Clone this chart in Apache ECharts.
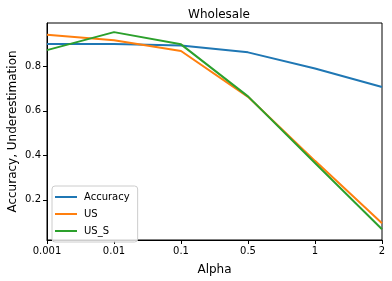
<!DOCTYPE html>
<html><head><meta charset="utf-8">
<script src="https://cdn.jsdelivr.net/npm/echarts@6/dist/echarts.min.js"></script>
<style>html,body{margin:0;padding:0;background:#fff}#c{width:392px;height:281px}</style>
</head><body><div id="c"></div>
<script>
const categories = ['0.001', '0.01', '0.1', '0.5', '1', '2'];
const accuracy = [0.901, 0.901, 0.894, 0.863, 0.790, 0.707];
const us = [0.942, 0.917, 0.869, 0.663, 0.375, 0.094];
const usS = [0.873, 0.954, 0.899, 0.665, 0.365, 0.067];
const yTicks = [0.2, 0.4, 0.6, 0.8];

const font = 'DejaVu Sans';
const chart = echarts.init(document.getElementById('c'));
const mk = (name, data, color) => ({
  name, type: 'line', data, symbol: 'none', smooth: false,
  lineStyle: { color, width: 2 }, itemStyle: { color }, animation: false
});
chart.setOption({
  animation: false,
  title: { text: 'Wholesale', left: 214, top: 4, textAlign: 'center',
    textStyle: { fontFamily: font, fontSize: 12, fontWeight: 'normal', color: '#000' } },
  grid: { left: 47, right: 10, top: 23, bottom: 41, show: true, borderColor: '#000', borderWidth: 1,
    backgroundColor: 'transparent', containLabel: false, outerBoundsMode: 'none' },
  legend: {
    orient: 'vertical', left: 52, top: 186, data: ['Accuracy', 'US', 'US_S'],
    icon: 'rect', itemWidth: 22, itemHeight: 2, itemGap: 7,
    padding: [6, 8, 6, 3], borderColor: '#ccc', borderWidth: 1, borderRadius: 3,
    backgroundColor: 'rgba(255,255,255,0.8)',
    textStyle: { fontFamily: font, fontSize: 10, color: '#000', padding: [0, 0, 0, 2] }
  },
  xAxis: {
    type: 'category', data: categories, boundaryGap: false,
    name: 'Alpha', nameLocation: 'middle', nameGap: 24,
    nameTextStyle: { fontFamily: font, fontSize: 12, color: '#000' },
    axisLine: { lineStyle: { color: '#000', width: 1 } },
    axisTick: { show: true, length: 4, lineStyle: { color: '#000' }, alignWithLabel: true },
    axisLabel: { fontFamily: font, fontSize: 10, color: '#000', margin: 6 },
    splitLine: { show: false }
  },
  yAxis: {
    type: 'value', min: 0.019, max: 0.995,
    name: 'Accuracy, Underestimation', nameLocation: 'middle', nameGap: 28, nameRotate: 90,
    nameMoveOverlap: false,
    nameTextStyle: { fontFamily: font, fontSize: 12, color: '#000' },
    axisLine: { show: true, lineStyle: { color: '#000', width: 1 } },
    axisTick: { show: true, length: 4, lineStyle: { color: '#000' }, customValues: yTicks },
    axisLabel: { fontFamily: font, fontSize: 10, color: '#000', margin: 6, customValues: yTicks,
      formatter: v => v.toFixed(1) },
    splitLine: { show: false }
  },
  series: [mk('Accuracy', accuracy, '#1f77b4'), mk('US', us, '#ff7f0e'), mk('US_S', usS, '#2ca02c')]
});
</script></body></html>
